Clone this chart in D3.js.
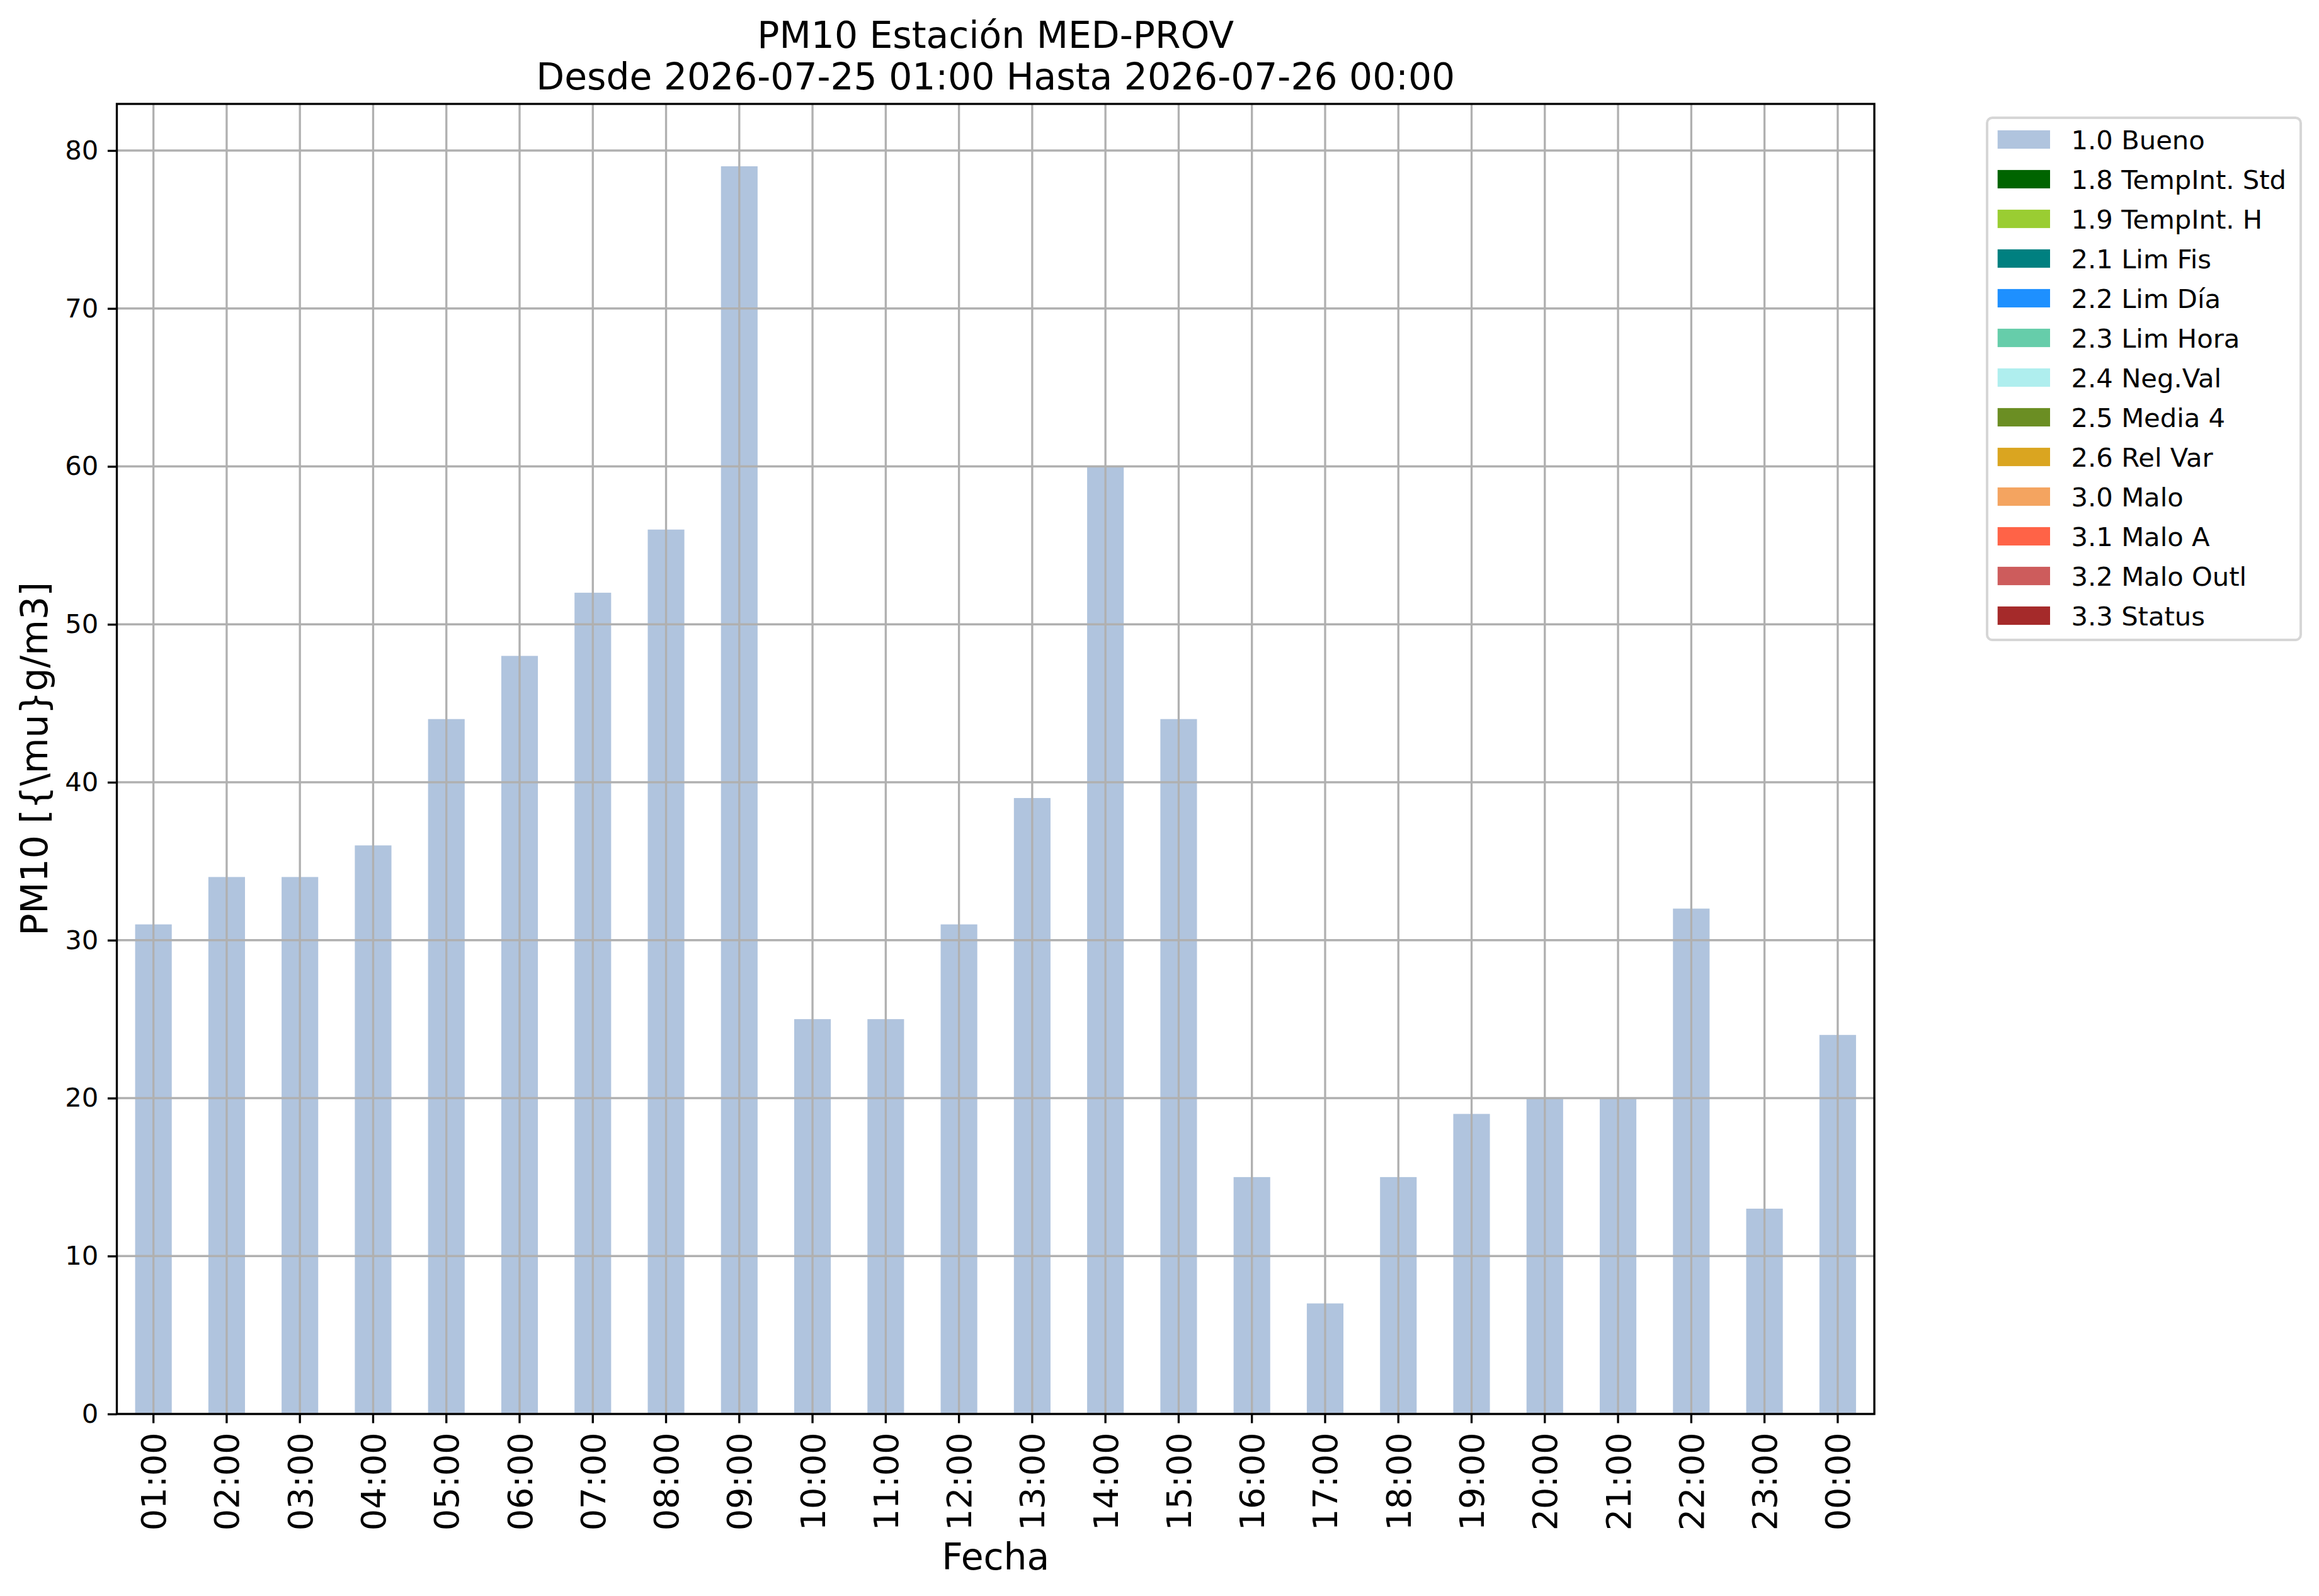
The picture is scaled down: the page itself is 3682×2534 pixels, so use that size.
<!DOCTYPE html>
<html>
<head>
<meta charset="utf-8">
<script src="https://cdn.jsdelivr.net/npm/d3@7"></script>
<style>
  body { margin: 0; background: #fff; }
  text { font-family: "DejaVu Sans", sans-serif; fill: #000; }
</style>
</head>
<body>
<div id="chart"></div>
<script>
// hourly PM10 values, 2026-07-25 01:00 .. 2026-07-26 00:00
const hours = ["01:00","02:00","03:00","04:00","05:00","06:00","07:00","08:00","09:00","10:00","11:00","12:00",
               "13:00","14:00","15:00","16:00","17:00","18:00","19:00","20:00","21:00","22:00","23:00","00:00"];
const pm10 = [31, 34, 34, 36, 44, 48, 52, 56, 79, 25, 25, 31, 39, 60, 44, 15, 7, 15, 19, 20, 20, 32, 13, 24];
const yTicks = [0, 10, 20, 30, 40, 50, 60, 70, 80];

// quality flags shown in legend
const flagNames = ["1.0 Bueno", "1.8 TempInt. Std", "1.9 TempInt. H", "2.1 Lim Fis", "2.2 Lim Día", "2.3 Lim Hora",
                   "2.4 Neg.Val", "2.5 Media 4", "2.6 Rel Var", "3.0 Malo", "3.1 Malo A", "3.2 Malo Outl", "3.3 Status"];
const flagColors = ["#b0c4de", "#006400", "#9acd32", "#008080", "#1e90ff", "#66cdaa",
                    "#afeeee", "#6b8e23", "#daa520", "#f4a460", "#ff6347", "#cd5c5c", "#a52a2a"];

const W = 3682, H = 2534;
const plot = { left: 185.5, right: 2976, top: 165, bottom: 2245 };
const lw = 3.33;          // 0.8pt at 300 dpi
const tick = 14.6;        // 3.5pt

const svg = d3.select("#chart").append("svg")
  .attr("width", W).attr("height", H)
  .style("background", "#fff");

// scales
const x = d3.scaleBand()
  .domain(hours)
  .range([plot.left, plot.right])
  .paddingInner(0.5)
  .paddingOuter(0.25);

const y = d3.scaleLinear()
  .domain([0, d3.max(pm10) * 1.05])
  .range([plot.bottom, plot.top]);

// bars
svg.append("g").selectAll("rect")
  .data(pm10)
  .join("rect")
  .attr("x", (d, i) => x(hours[i]))
  .attr("y", d => y(d))
  .attr("width", x.bandwidth())
  .attr("height", d => y(0) - y(d))
  .attr("fill", flagColors[0]);

// grid on top of the bars (like the original)
const grid = svg.append("g").attr("stroke", "#b0b0b0").attr("stroke-width", lw);
grid.selectAll(".gy").data(yTicks).join("line")
  .attr("x1", plot.left).attr("x2", plot.right)
  .attr("y1", d => y(d)).attr("y2", d => y(d));
grid.selectAll(".gx").data(hours).join("line")
  .attr("x1", d => x(d) + x.bandwidth() / 2).attr("x2", d => x(d) + x.bandwidth() / 2)
  .attr("y1", plot.top).attr("y2", plot.bottom);

// y axis
const yAxis = svg.append("g")
  .attr("transform", `translate(${plot.left},0)`)
  .call(d3.axisLeft(y).tickValues(yTicks).tickSize(tick).tickPadding(tick));
yAxis.select(".domain").remove();
yAxis.selectAll("line").attr("stroke", "#000").attr("stroke-width", lw);
yAxis.selectAll("text").attr("font-size", 41.7).attr("font-family", "DejaVu Sans");

// x axis, labels turned upright
const xAxis = svg.append("g")
  .attr("transform", `translate(0,${plot.bottom})`)
  .call(d3.axisBottom(x).tickSize(tick).tickPadding(tick));
xAxis.select(".domain").remove();
xAxis.selectAll("line").attr("stroke", "#000").attr("stroke-width", lw);
xAxis.selectAll("text")
  .attr("font-size", 54.2)
  .attr("font-family", "DejaVu Sans")
  .attr("transform", "rotate(-90)")
  .attr("text-anchor", "end")
  .attr("x", -(tick * 2))
  .attr("y", 0)
  .attr("dy", "0.36em");

// frame
svg.append("rect")
  .attr("x", plot.left).attr("y", plot.top)
  .attr("width", plot.right - plot.left).attr("height", plot.bottom - plot.top)
  .attr("fill", "none").attr("stroke", "#000").attr("stroke-width", lw);

// titles and axis labels
const cx = (plot.left + plot.right) / 2;
svg.append("text").attr("x", cx).attr("y", 76).attr("text-anchor", "middle")
  .attr("font-size", 58.3).text("PM10 Estación MED-PROV");
svg.append("text").attr("x", cx).attr("y", 141.7).attr("text-anchor", "middle")
  .attr("font-size", 58.3).text("Desde 2026-07-25 01:00 Hasta 2026-07-26 00:00");
svg.append("text").attr("x", cx).attr("y", 2491.7).attr("text-anchor", "middle")
  .attr("font-size", 58.3).text("Fecha");
svg.append("text")
  .attr("transform", `translate(75,${(plot.top + plot.bottom) / 2}) rotate(-90)`)
  .attr("text-anchor", "middle")
  .attr("font-size", 58.3).text("PM10 [{\\mu}g/m3]");

// legend
const leg = svg.append("g").attr("transform", "translate(3155,187)");
leg.append("rect")
  .attr("width", 498).attr("height", 829)
  .attr("rx", 8.3).attr("ry", 8.3)
  .attr("fill", "#fff").attr("stroke", "#d6d6d6").attr("stroke-width", 4);
const rowH = 63;
const item = leg.selectAll(".item").data(flagNames).join("g")
  .attr("transform", (d, i) => `translate(0,${34.5 + i * rowH})`);
item.append("rect")
  .attr("x", 16.7).attr("y", -14.6)
  .attr("width", 83.3).attr("height", 29.2)
  .attr("fill", (d, i) => flagColors[i]);
item.append("text")
  .attr("x", 133.6).attr("y", 15.2)
  .attr("font-size", 41.7)
  .text(d => d);
</script>
</body>
</html>
